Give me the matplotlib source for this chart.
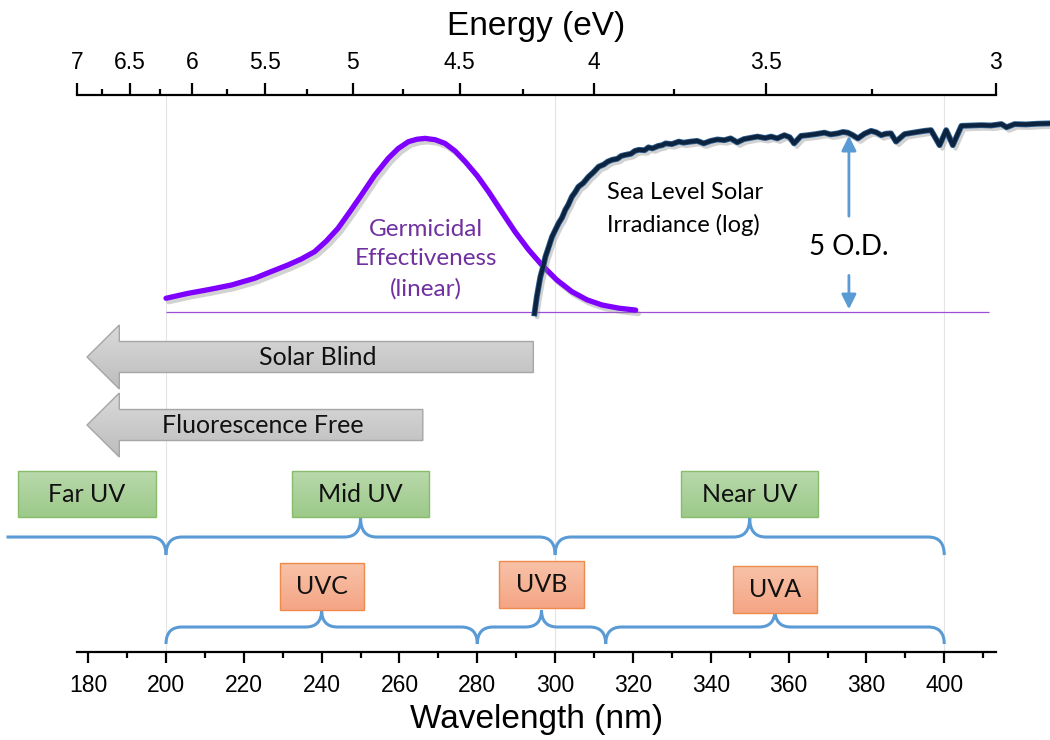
import numpy as np
import matplotlib.pyplot as plt
import matplotlib.colors as mcolors
import matplotlib.patheffects as pe
from matplotlib.patches import Polygon, Rectangle, PathPatch
from matplotlib.path import Path
from matplotlib.ticker import FixedLocator, MultipleLocator, FuncFormatter

plt.rcParams['font.family'] = ['Liberation Sans', 'DejaVu Sans']
ANNOT_FONT = ['Lato', 'DejaVu Sans']

# germicidal effectiveness, relative (linear)
germ_nm = [200, 205.6, 211, 216.8, 222.8, 227, 231.3, 234.8, 238.2, 241.2, 244.2,
           247.2, 250.2, 253.6, 257.1, 259.7, 262.3, 264.5, 266.6, 269.2, 271.7,
           274.3, 276.9, 279.9, 282.9, 286.3, 289.7, 293.1, 296.6, 300.4, 304.3,
           308.2, 312.1, 316.4, 320.7]
germ_rel = [0.079, 0.107, 0.129, 0.155, 0.194, 0.232, 0.270, 0.305, 0.347, 0.408, 0.481,
            0.575, 0.672, 0.785, 0.883, 0.940, 0.979, 0.993, 0.998, 0.990, 0.969,
            0.925, 0.864, 0.785, 0.691, 0.575, 0.461, 0.360, 0.270, 0.185, 0.117,
            0.070, 0.040, 0.022, 0.011]

# sea level solar irradiance, log10 relative to the 5 O.D. reference
solar_nm = [294.7, 295.3, 296.2, 297.0, 297.5, 298.3, 299.2, 300.0, 300.9, 301.8,
            302.6, 303.4, 304.3, 305.1, 306.0, 307.2, 308.6, 309.8, 311.2, 312.5,
            313.5, 314.6, 316.0, 317.0, 318.1, 319.5, 320.5, 321.5, 323.0, 324.0,
            325.0, 326.5, 327.5, 328.4, 330.0, 331.8, 333.0, 334.8, 336.5, 338.2,
            340.0, 341.7, 343.5, 345.1, 346.8, 348.5, 350.0, 352.0, 354.0, 355.5,
            357.1, 358.9, 360.3, 361.4, 363.2, 365.0, 367.0, 369.2, 370.8, 372.6,
            374.0, 375.2, 376.5, 377.8, 379.5, 381.2, 382.5, 383.8, 385.0, 386.3,
            387.6, 389.8, 392.0, 394.9, 396.6, 398.8, 400.5, 402.2, 404.4, 407.0,
            409.5, 412.0, 414.7, 416.0, 418.1, 421.0, 424.0, 427.6]
solar_log = [-5.04, -4.57, -4.02, -3.70, -3.46, -3.20, -2.90, -2.72, -2.52, -2.36,
             -2.15, -2.00, -1.78, -1.66, -1.50, -1.40, -1.22, -1.10, -0.94, -0.88,
             -0.80, -0.75, -0.72, -0.64, -0.61, -0.58, -0.50, -0.47, -0.48, -0.40,
             -0.43, -0.36, -0.34, -0.29, -0.31, -0.24, -0.27, -0.24, -0.22, -0.29,
             -0.22, -0.18, -0.20, -0.15, -0.26, -0.17, -0.14, -0.10, -0.14, -0.10,
             -0.15, -0.06, -0.12, -0.29, -0.08, -0.06, -0.03, 0.01, -0.04, -0.01,
             0.03, 0.01, -0.06, -0.15, -0.02, 0.06, 0.02, -0.06, -0.02, -0.01,
             -0.24, -0.03, 0.01, 0.06, 0.08, -0.34, 0.08, -0.34, 0.20, 0.21,
             0.22, 0.21, 0.25, 0.16, 0.25, 0.24, 0.26, 0.27]

region_names = ["Far UV", "Mid UV", "Near UV"]
region_edges = [(100, 200), (200, 300), (300, 400)]
band_names = ["UVC", "UVB", "UVA"]
band_edges = [(200, 280), (280, 313), (313, 400)]

energy_major = [7, 6.5, 6, 5.5, 5, 4.5, 4, 3.5, 3]
energy_minor = [6.75, 6.25, 5.75, 5.25, 4.75, 4.25, 3.75, 3.25]
grid_nm = [200, 300, 400]
HC = 1239.84

BLUE = '#5B9BD5'


def nm2ev(x):
    x = np.asarray(x, dtype=float)
    with np.errstate(divide='ignore'):
        return HC / x


def gradient_patch(ax, patch, top, bottom, x0, x1, y0, y1):
    # y0 is the upper edge on screen (axis is inverted)
    ax.add_patch(patch)
    c0 = np.array(mcolors.to_rgb(top))
    c1 = np.array(mcolors.to_rgb(bottom))
    t = np.linspace(0, 1, 64)[:, None, None]
    img = c0 + t * (c1 - c0)
    im = ax.imshow(img, extent=(x0, x1, y1, y0), origin='upper', aspect='auto',
                   zorder=patch.get_zorder() - 0.1, interpolation='bilinear')
    im.set_clip_path(patch)
    return im


def brace(ax, x0, x1, yb, tip, cusp, r=4.1, x_start=None, **kw):
    xm = (x0 + x1) / 2
    verts, codes = [], []
    if x_start is None:
        verts += [(x0, yb + tip), (x0, yb), (x0 + r, yb)]
        codes += [Path.MOVETO, Path.CURVE3, Path.CURVE3]
    else:
        verts += [(x_start, yb)]
        codes += [Path.MOVETO]
    if x_start is None or x_start < xm - r:
        verts += [(xm - r, yb), (xm, yb), (xm, yb - cusp), (xm, yb), (xm + r, yb)]
        codes += [Path.LINETO, Path.CURVE3, Path.CURVE3, Path.CURVE3, Path.CURVE3]
    verts += [(x1 - r, yb), (x1, yb), (x1, yb + tip)]
    codes += [Path.LINETO, Path.CURVE3, Path.CURVE3]
    ax.add_patch(PathPatch(Path(verts, codes), fill=False, clip_on=False, **kw))


fig = plt.figure(figsize=(10.5, 7.4), dpi=100)
ax = fig.add_axes([0.0733, 0.1189, 0.8752, 0.7527])
# main axis: x in nm, y in layout units (rows, top = 95, bottom = 652)
ax.set_xlim(HC / 7, HC / 3)
ax.set_ylim(652, 95)

for s in ['left', 'right', 'top']:
    ax.spines[s].set_visible(False)
ax.spines['bottom'].set_linewidth(1.6)
ax.set_yticks([])
ax.xaxis.set_major_locator(MultipleLocator(20))
ax.xaxis.set_minor_locator(MultipleLocator(10))
ax.tick_params(axis='x', which='major', length=8, width=1.6, labelsize=16.5, pad=8)
ax.tick_params(axis='x', which='minor', length=4, width=1.6)
ax.set_xlabel('Wavelength (nm)', fontsize=24, labelpad=5)
ax.vlines(grid_nm, 95, 652, colors='#e4e4e4', linewidth=0.8, zorder=0)

sec = ax.secondary_xaxis('top', functions=(nm2ev, nm2ev))
sec.spines['top'].set_linewidth(1.6)
sec.xaxis.set_major_locator(FixedLocator(energy_major))
sec.xaxis.set_minor_locator(FixedLocator(energy_minor))
sec.xaxis.set_major_formatter(FuncFormatter(lambda v, p: f'{v:g}'))
sec.tick_params(axis='x', which='major', length=9, width=1.6, labelsize=16.5, pad=6)
sec.tick_params(axis='x', which='minor', length=4, width=1.6)
sec.set_xlabel('Energy (eV)', fontsize=24, labelpad=12)

shadow = [pe.SimpleLineShadow(offset=(2, -2.5), shadow_color='gray', alpha=0.35), pe.Normal()]

# germicidal curve (linear scale)
ax_g = ax.twinx()
ax_g.set_ylim((312 - 652) / 174, (312 - 95) / 174)
ax_g.axis('off')
ax_g.hlines(0, 200, 411.5, colors='#9B4FD6', linewidth=0.9)
ax_g.plot(germ_nm, germ_rel, color='#7F00FF', linewidth=3.8,
          solid_capstyle='round', solid_joinstyle='round', path_effects=shadow)

# solar irradiance curve (log scale)
ax_s = ax.twinx()
ax_s.set_yscale('log')
ax_s.set_ylim(10 ** ((133 - 652) / 35.8), 10 ** ((133 - 95) / 35.8))
ax_s.axis('off')
solar_irr = 10.0 ** np.array(solar_log)
ax_s.plot(solar_nm, solar_irr, color='#0C2440', linewidth=3.0, clip_on=False,
          solid_joinstyle='round',
          path_effects=[pe.SimpleLineShadow(offset=(2, -2.5), shadow_color='gray', alpha=0.35),
                        pe.Stroke(linewidth=4.2, foreground='#2F5F8F'), pe.Normal()])
ax_s.annotate('', xy=(375.5, 1.0), xytext=(375.5, 10 ** -2.4),
              arrowprops=dict(arrowstyle='-|>', color=BLUE, lw=2, mutation_scale=22))
ax_s.annotate('', xy=(375.5, 1e-5), xytext=(375.5, 10 ** -3.9),
              arrowprops=dict(arrowstyle='-|>', color=BLUE, lw=2, mutation_scale=22))

ax.text(266.8, 259, 'Germicidal\nEffectiveness\n(linear)', ha='center', va='center',
        fontsize=17.5, color='#7030A0', family=ANNOT_FONT, linespacing=1.5)
ax.text(313.4, 209, 'Sea Level Solar\nIrradiance (log)', ha='left', va='center',
        fontsize=17, color='black', family=ANNOT_FONT, linespacing=1.55)
ax.text(375.5, 247, '5 O.D.', ha='center', va='center', fontsize=20,
        color='black', family=ANNOT_FONT)

# gray arrows
arrows = [("Solar Blind", 357, 294.4, 239.0), ("Fluorescence Free", 425, 266.0, 224.8)]
tip_x, base_x = 179.7, 188.0
for label, yc, xend, xtext in arrows:
    pts = [(tip_x, yc), (base_x, yc - 32), (base_x, yc - 15.5), (xend, yc - 15.5),
           (xend, yc + 15.5), (base_x, yc + 15.5), (base_x, yc + 32)]
    poly = Polygon(pts, closed=True, facecolor='none', edgecolor='#A6A6A6',
                   linewidth=1, zorder=3)
    gradient_patch(ax, poly, '#DADADA', '#BDBDBD', tip_x, xend, yc - 32, yc + 32)
    ax.text(xtext, yc, label, ha='center', va='center', fontsize=18,
            family=ANNOT_FONT, color='#111111', zorder=4)

# region boxes and braces
region_centers = [179.7, 250, 350]
for name, xc in zip(region_names, region_centers):
    w = 35.3
    rect = Rectangle((xc - w / 2, 471), w, 46, facecolor='none', edgecolor='#86BC6A',
                     linewidth=1, zorder=3, clip_on=False)
    gradient_patch(ax, rect, '#B9D9AB', '#9CC98A', xc - w / 2, xc + w / 2, 471, 517)
    ax.text(xc, 494, name, ha='center', va='center', fontsize=18,
            family=ANNOT_FONT, color='#111111', zorder=4, clip_on=False)

for (x0, x1), name in zip(region_edges, region_names):
    brace(ax, x0, x1, 537, 18, 19, x_start=159.0 if name == 'Far UV' else None,
          edgecolor=BLUE, linewidth=2.2, zorder=2)

band_tops = [563, 561, 566]
for (x0, x1), name, top in zip(band_edges, band_names, band_tops):
    xc = (x0 + x1) / 2
    w = 21.6
    rect = Rectangle((xc - w / 2, top), w, 47, facecolor='none', edgecolor='#F08A4B',
                     linewidth=1, zorder=3)
    gradient_patch(ax, rect, '#F8C2A8', '#F4A585', xc - w / 2, xc + w / 2, top, top + 47)
    ax.text(xc, top + 23.5, name, ha='center', va='center', fontsize=18,
            family=ANNOT_FONT, color='#111111', zorder=4)
    brace(ax, x0, x1, 627, 17, 17, edgecolor=BLUE, linewidth=2.2, zorder=2)

ax.set_xlim(HC / 7, HC / 3)
ax.set_ylim(652, 95)

fig.savefig('out.png', dpi=100)
